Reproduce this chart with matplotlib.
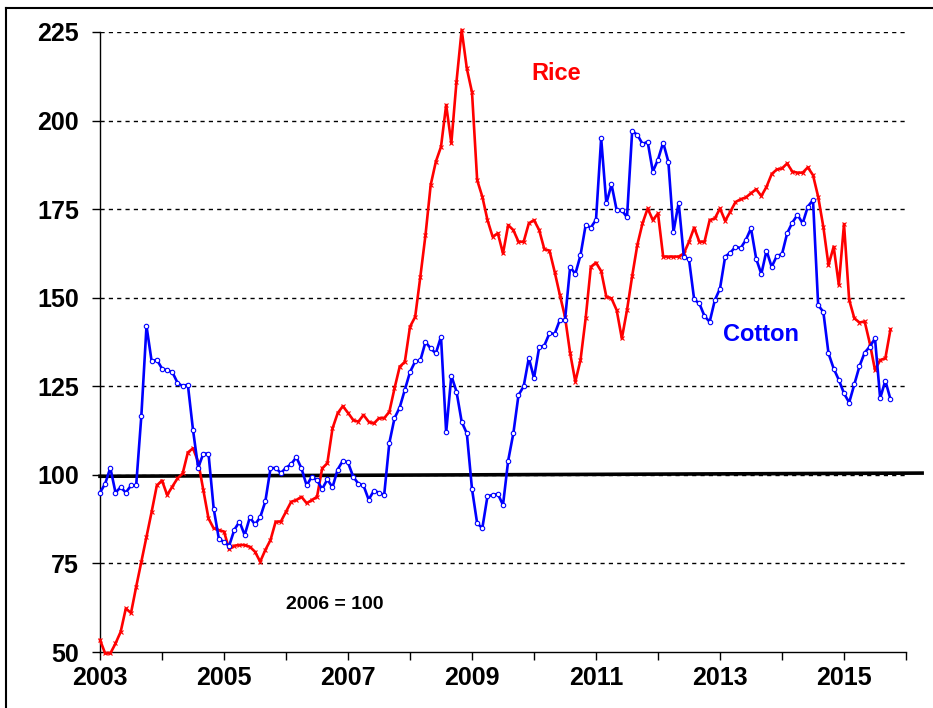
import matplotlib
matplotlib.use("Agg")
import matplotlib.pyplot as plt
import numpy as np
from matplotlib.lines import Line2D

# Monthly price index, 2006 = 100, Jan 2003 .. Oct 2015
start_year = 2003

rice = [
    53.4, 49.6, 49.6, 52.4, 55.7, 62.3, 61.0, 68.4, 75.5, 82.5, 89.6, 97.0,      # 2003
    98.4, 94.3, 96.7, 99.0, 100.4, 106.3, 107.5, 103.7, 95.7, 87.7, 84.9, 84.4,  # 2004
    84.0, 79.0, 80.0, 80.2, 80.2, 79.7, 78.3, 75.5, 78.8, 81.6, 86.8, 86.8,      # 2005
    89.6, 92.4, 92.9, 93.8, 92.0, 92.9, 93.8, 101.8, 103.3, 113.1, 117.4, 119.4, # 2006
    117.5, 115.5, 115.0, 116.9, 115.0, 114.5, 116.0, 116.0, 117.8, 124.4, 130.5, 131.9,  # 2007
    141.8, 144.6, 155.9, 167.7, 181.8, 188.4, 192.6, 204.4, 193.6, 211.0, 225.6, 214.7,  # 2008
    208.0, 183.2, 178.5, 171.9, 167.2, 168.2, 162.5, 170.5, 169.1, 165.8, 165.8, 171.0,  # 2009
    171.9, 169.1, 163.7, 163.3, 157.3, 150.8, 144.6, 134.3, 126.3, 132.4, 144.2, 158.7,  # 2010
    159.9, 157.5, 150.3, 149.8, 146.5, 138.5, 146.5, 156.1, 164.9, 171.0, 175.2, 171.9,  # 2011
    173.8, 161.6, 161.6, 161.6, 161.6, 162.5, 165.8, 169.8, 165.8, 165.8, 171.9, 172.4,  # 2012
    175.2, 171.7, 174.3, 177.0, 177.8, 178.3, 179.5, 180.6, 178.7, 181.3, 184.9, 186.2,  # 2013
    186.5, 187.9, 185.6, 185.3, 185.3, 186.8, 184.6, 178.5, 170.0, 159.2, 164.4, 153.6,  # 2014
    170.8, 149.4, 144.2, 143.0, 143.3, 137.1, 129.6, 132.4, 132.9, 141.1,                # 2015
]

cotton = [
    95.0, 97.5, 102.0, 95.0, 96.5, 95.0, 97.0, 97.0, 116.6, 142.0, 132.0, 132.5,  # 2003
    130.0, 129.5, 129.0, 126.0, 125.0, 125.5, 112.7, 102.0, 106.0, 106.0, 90.5, 82.0,  # 2004
    81.0, 80.0, 84.5, 86.8, 83.0, 88.0, 86.0, 88.0, 92.5, 101.8, 102.0, 100.5,    # 2005
    102.0, 103.0, 105.0, 101.8, 97.0, 99.5, 98.5, 96.0, 98.7, 96.5, 101.5, 104.0, # 2006
    103.5, 99.5, 97.5, 97.0, 93.0, 95.5, 95.0, 94.3, 109.0, 116.0, 119.0, 124.0,  # 2007
    129.0, 132.0, 132.3, 137.5, 135.7, 134.3, 139.0, 112.0, 128.0, 123.5, 115.0, 111.7,  # 2008
    96.0, 86.3, 85.0, 94.0, 94.3, 94.6, 91.5, 104.0, 111.7, 122.5, 125.0, 133.0,  # 2009
    127.3, 136.0, 136.5, 140.0, 139.8, 143.7, 143.7, 158.7, 156.7, 162.0, 170.5, 169.8,  # 2010
    172.0, 195.0, 176.6, 182.0, 174.7, 174.7, 172.7, 197.0, 196.0, 193.4, 194.0, 185.6,  # 2011
    189.0, 193.8, 188.4, 168.6, 176.8, 161.6, 160.8, 149.5, 148.4, 144.8, 143.2, 149.3,  # 2012
    152.6, 161.6, 162.7, 164.4, 164.0, 166.3, 169.6, 161.0, 156.7, 163.3, 158.7, 161.8,  # 2013
    162.3, 168.2, 171.2, 173.4, 171.0, 175.7, 177.6, 147.9, 146.0, 134.3, 130.0, 126.8,  # 2014
    123.0, 120.4, 125.6, 130.7, 134.5, 136.2, 138.5, 121.6, 126.6, 121.3,                # 2015
]

year_ticks = list(range(2003, 2017))
year_labels = [str(y) if y % 2 == 1 else "" for y in year_ticks]
y_ticks = [50, 75, 100, 125, 150, 175, 200, 225]

# the base-year reference line (drawn slightly tilted in the original)
base_x = [2003, 2016.26]
base_y = [99.6, 100.5]

months = start_year + np.arange(len(rice)) / 12.0

arial = ["Liberation Sans", "DejaVu Sans"]

fig = plt.figure(figsize=(9.33, 7.08), dpi=100)
ax = fig.add_axes([100 / 933, 56 / 708, 806 / 933, 620 / 708])

# dashed grid
for yv in y_ticks[1:]:
    ax.axhline(yv, color="black", lw=1.0, ls=(0, (3, 3)), zorder=1)

ax.plot(base_x, base_y, color="black", lw=2.6, zorder=2, clip_on=False)

ax.plot(months, rice, color="#ff0000", lw=1.9, marker="x", ms=3, mew=0.8,
        zorder=3, clip_on=False)
ax.plot(months, cotton, color="#0000ff", lw=1.9, marker="o", ms=3.2, mew=0.8,
        mfc="white", zorder=4, clip_on=False)

ax.set_xlim(2003, 2016)
ax.set_ylim(50, 225)

ax.set_xticks(year_ticks)
ax.set_xticklabels(year_labels)
ax.set_yticks(y_ticks)
ax.tick_params(axis="both", direction="out", length=6, width=1, color="black")
ax.tick_params(axis="y", pad=9)
ax.tick_params(axis="x", pad=4)
for lab in ax.get_xticklabels() + ax.get_yticklabels():
    lab.set_family(arial)
    lab.set_weight("bold")
    lab.set_size(18)

for side in ["top", "right"]:
    ax.spines[side].set_visible(False)
for side in ["left", "bottom"]:
    ax.spines[side].set_linewidth(1.0)

ax.text(2010.35, 213.2, "Rice", color="#ff0000", fontsize=17, fontweight="bold",
        family=arial, ha="center", va="center")
ax.text(2013.66, 139.5, "Cotton", color="#0000ff", fontsize=17, fontweight="bold",
        family=arial, ha="center", va="center")
ax.text(2006.79, 63.5, "2006 = 100", color="black", fontsize=14, fontweight="bold",
        family=arial, ha="center", va="center")

# outer frame (left and top edges visible)
fig.add_artist(Line2D([6 / 933, 6 / 933], [0, 1 - 8 / 708], color="black", lw=1.5,
                      transform=fig.transFigure))
fig.add_artist(Line2D([6 / 933, 1], [1 - 8 / 708, 1 - 8 / 708], color="black", lw=1.5,
                      transform=fig.transFigure))

fig.savefig("out.png", dpi=100)
